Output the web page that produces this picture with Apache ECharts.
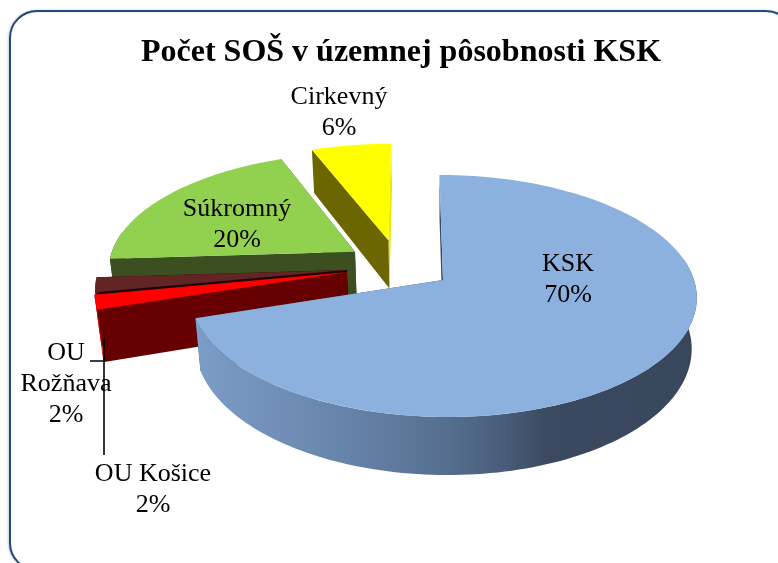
<!DOCTYPE html>
<html><head><meta charset="utf-8">
<style>html,body{margin:0;padding:0;background:#fff}#c{width:778px;height:563px}</style>
<script src="https://cdn.jsdelivr.net/npm/echarts@6/dist/echarts.min.js"></script>
</head><body><div id="c"></div>
<script>
// ---- data ----
const categories = ['KSK', 'OU Košice', 'OU Rožňava', 'Súkromný', 'Cirkevný'];
const shares = [70, 2, 2, 20, 6];
const titleText = 'Počet SOŠ v územnej pôsobnosti KSK';

// ---- styles and layout (not data) ----
const topColors = ['#8db1df', '#ff0000', '#632523', '#92d050', '#ffff00'];
const startFaceColors = ['#3a4a60', '#660000', '#1c0808', '#3b4f20', '#6b6600'];
const endFaceColors = ['#3a4a60', '#660000', '#1c0808', '#3b4f20', '#e8e800'];
const rimColors = [null, '#e00000', '#4a1a1a', '#3b4f20', '#6b6600'];
const explodeU = [0, -0.386, -0.386, -0.358, -0.222];
const explodeV = [0, -0.066, -0.085, -0.245, -0.35];
const drawOrder = [4, 3, 2, 1, 0];   // rank: back to front
const labelLines = [['KSK', '70%'], ['OU Košice', '2%'], ['OU', 'Rožňava', '2%'], ['Súkromný', '20%'], ['Cirkevný', '6%']];
const labelX = [568, 153, 66, 237, 339];
const labelY = [280, 490, 384, 225, 113];
const cam = { ax: 443, ay: 280, A: 251, B: 118.9, S: 4, k: 0.132, e: 0.02, D: 50.4 };

function project(u, v, bottom) {
  const w = 1 - cam.k * v;
  const wx = w + (bottom ? cam.e : 0);
  return [
    cam.ax + (cam.A * u + cam.S * v) / wx,
    cam.ay + (cam.B * v + (bottom ? cam.D : 0)) / w
  ];
}
function rimPoint(deg, du, dv, bottom) {
  const t = deg * Math.PI / 180;
  return project(Math.sin(t) + du, -Math.cos(t) + dv, bottom);
}
function arc(a, b, du, dv, bottom) {
  const n = Math.max(2, Math.ceil(Math.abs(b - a) / 1.5));
  const pts = [];
  for (let i = 0; i <= n; i++) pts.push(rimPoint(a + (b - a) * i / n, du, dv, bottom));
  return pts;
}
const total = shares.reduce((a, b) => a + b, 0);
const startAngles = [];
shares.reduce((acc, s, i) => { startAngles[i] = acc; return acc + s / total * 360; }, 0);

function renderSlice(params, api) {
  const i = api.value(0);
  const a = startAngles[i], b = a + api.value(1) / total * 360;
  const du = explodeU[i], dv = explodeV[i];
  const base = drawOrder[i] * 10;
  const apexT = project(du, dv, false), apexB = project(du, dv, true);
  const poly = (points, fill, z) => ({ type: 'polygon', z2: base + z, silent: true,
    shape: { points }, style: { fill, stroke: null } });
  const children = [];
  children.push(poly([rimPoint(b, du, dv, false), rimPoint(b, du, dv, true), apexB, apexT], endFaceColors[i], 0));
  children.push(poly([rimPoint(a, du, dv, false), rimPoint(a, du, dv, true), apexB, apexT], startFaceColors[i], 1));
  const wallA = Math.max(a, 80), wallB = Math.min(b, 280);
  if (wallB > wallA) {
    const wall = arc(wallA, wallB, du, dv, false).concat(arc(wallA, wallB, du, dv, true).reverse());
    const fill = i === 0 ? new echarts.graphic.LinearGradient(0, 0, 1, 0, [
      { offset: 0, color: '#7c9dc8' }, { offset: 0.28, color: '#6885ac' },
      { offset: 0.5, color: '#566f8f' }, { offset: 0.62, color: '#485c78' },
      { offset: 0.7, color: '#3b4a60' }, { offset: 1, color: '#38475c' }
    ]) : rimColors[i];
    children.push(poly(wall, fill, 2));
  }
  children.push(poly([apexT].concat(arc(a, b, du, dv, false)), topColors[i], 3));
  return { type: 'group', children };
}
function renderLabel(params, api) {
  const i = api.value(0);
  return { type: 'text', z2: 200, silent: true, x: labelX[i], y: labelY[i],
    style: { text: labelLines[i].join('\n'), fill: '#000', align: 'center', verticalAlign: 'middle',
      font: '26px "Liberation Serif"', lineHeight: 31 } };
}
const rows = categories.map((c, i) => [i, shares[i], c]);
const chart = echarts.init(document.getElementById('c'), null, { renderer: 'canvas' });
chart.setOption({
  animation: false,
  backgroundColor: '#fff',
  title: { text: titleText, left: 396, top: 32, textAlign: 'center',
    textStyle: { fontFamily: 'Liberation Serif', fontWeight: 'bold', fontSize: 32, color: '#000' } },
  graphic: [
    { type: 'rect', z: 0, shape: { x: 10, y: 11, width: 783, height: 559, r: 27 },
      style: { fill: 'none', stroke: '#1f497d', lineWidth: 2, shadowBlur: 2, shadowOffsetX: -1, shadowColor: 'rgba(0,0,0,0.2)' } },
    { type: 'polyline', z: 50, shape: { points: [[90, 361], [104, 361], [104, 337]] }, style: { fill: 'none', stroke: '#000', lineWidth: 1.6 } },
    { type: 'line', z: 50, shape: { x1: 104, y1: 361, x2: 104, y2: 455 }, style: { stroke: '#000', lineWidth: 1.6 } }
  ],
  series: [
    { type: 'custom', coordinateSystem: 'none', clip: false, data: rows, renderItem: renderSlice,
      encode: { tooltip: 1 } },
    { type: 'custom', coordinateSystem: 'none', clip: false, z: 60, data: rows, renderItem: renderLabel }
  ]
});
</script></body></html>
